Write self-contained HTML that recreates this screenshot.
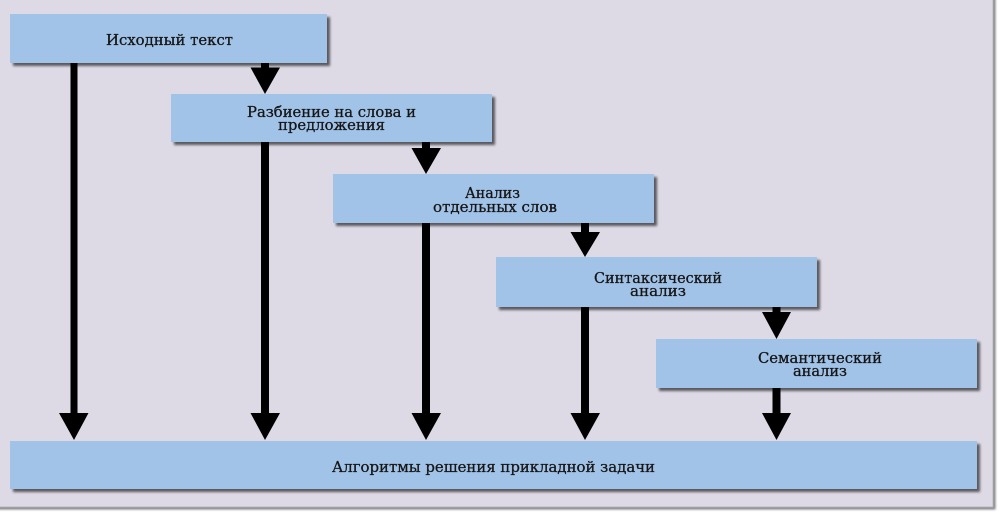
<!DOCTYPE html>
<html><head><meta charset="utf-8"><style>
html,body{margin:0;padding:0;background:#fff;}
svg{display:block;}
text{font-family:"DejaVu Serif","Liberation Serif",serif;font-size:15px;fill:#151515;stroke:#151515;stroke-width:0.3px;}
</style></head><body>
<svg width="1000" height="513" viewBox="0 0 1000 513" xmlns="http://www.w3.org/2000/svg">
<defs>
<filter id="sh" x="-5%" y="-20%" width="115%" height="150%">
<feGaussianBlur in="SourceAlpha" stdDeviation="1.3"/>
<feOffset dx="3" dy="3" result="b"/>
<feComponentTransfer><feFuncA type="linear" slope="0.6"/></feComponentTransfer>
<feMerge><feMergeNode/><feMergeNode in="SourceGraphic"/></feMerge>
</filter>
<filter id="psh" x="-2%" y="-2%" width="105%" height="105%">
<feGaussianBlur in="SourceAlpha" stdDeviation="1"/>
<feOffset dx="2" dy="2"/>
<feComponentTransfer><feFuncA type="linear" slope="0.5"/></feComponentTransfer>
<feMerge><feMergeNode/><feMergeNode in="SourceGraphic"/></feMerge>
</filter>
</defs>
<rect x="-5" y="-5" width="998" height="512" fill="#dddae6" stroke="#b8b6c0" stroke-width="1" filter="url(#psh)"/>

<!-- connectors -->
<g fill="#000">
<rect x="70.5" y="60" width="7" height="355"/>
<polygon points="59,413 88.5,413 74,440"/>
<rect x="261" y="140" width="8" height="275"/>
<polygon points="250.5,413 280,413 265,440"/>
<rect x="422" y="220" width="8" height="195"/>
<polygon points="411.5,413 441,413 426,440"/>
<rect x="581" y="304" width="8" height="111"/>
<polygon points="570.5,413 600,413 585,440"/>
<rect x="772.5" y="386" width="8" height="29"/>
<polygon points="762,413 791,413 776.5,440"/>
<rect x="261" y="60" width="8" height="10"/>
<polygon points="250.5,67.5 280,67.5 265,94"/>
<rect x="422" y="140" width="8" height="10"/>
<polygon points="411.5,148 441,148 426,174"/>
<rect x="581" y="220" width="8" height="14"/>
<polygon points="570.5,232 600,232 585,257"/>
<rect x="772.5" y="304" width="8" height="10"/>
<polygon points="762,312 791,312 776.5,339"/>
</g>

<!-- boxes -->
<g fill="#a2c3e8" filter="url(#sh)">
<rect x="10" y="14" width="317" height="49"/>
<rect x="171" y="94" width="321" height="48"/>
<rect x="333" y="174" width="321" height="49"/>
<rect x="496" y="257" width="321" height="50"/>
<rect x="656" y="339" width="321" height="49"/>
<rect x="10" y="441" width="967" height="48"/>
</g>

<text x="106" y="45" textLength="127" lengthAdjust="spacingAndGlyphs">Исходный текст</text>
<text x="247" y="117" textLength="169" lengthAdjust="spacingAndGlyphs">Разбиение на слова и</text>
<text x="278" y="130" textLength="107" lengthAdjust="spacingAndGlyphs">предложения</text>
<text x="465" y="198" textLength="55" lengthAdjust="spacingAndGlyphs">Анализ</text>
<text x="433" y="212" textLength="124" lengthAdjust="spacingAndGlyphs">отдельных слов</text>
<text x="594" y="283" textLength="128" lengthAdjust="spacingAndGlyphs">Синтаксический</text>
<text x="630" y="296" textLength="56" lengthAdjust="spacingAndGlyphs">анализ</text>
<text x="758" y="363" textLength="124" lengthAdjust="spacingAndGlyphs">Семантический</text>
<text x="793" y="376" textLength="54" lengthAdjust="spacingAndGlyphs">анализ</text>
<text x="332" y="472" textLength="323" lengthAdjust="spacingAndGlyphs">Алгоритмы решения прикладной задачи</text>
</svg>
</body></html>
